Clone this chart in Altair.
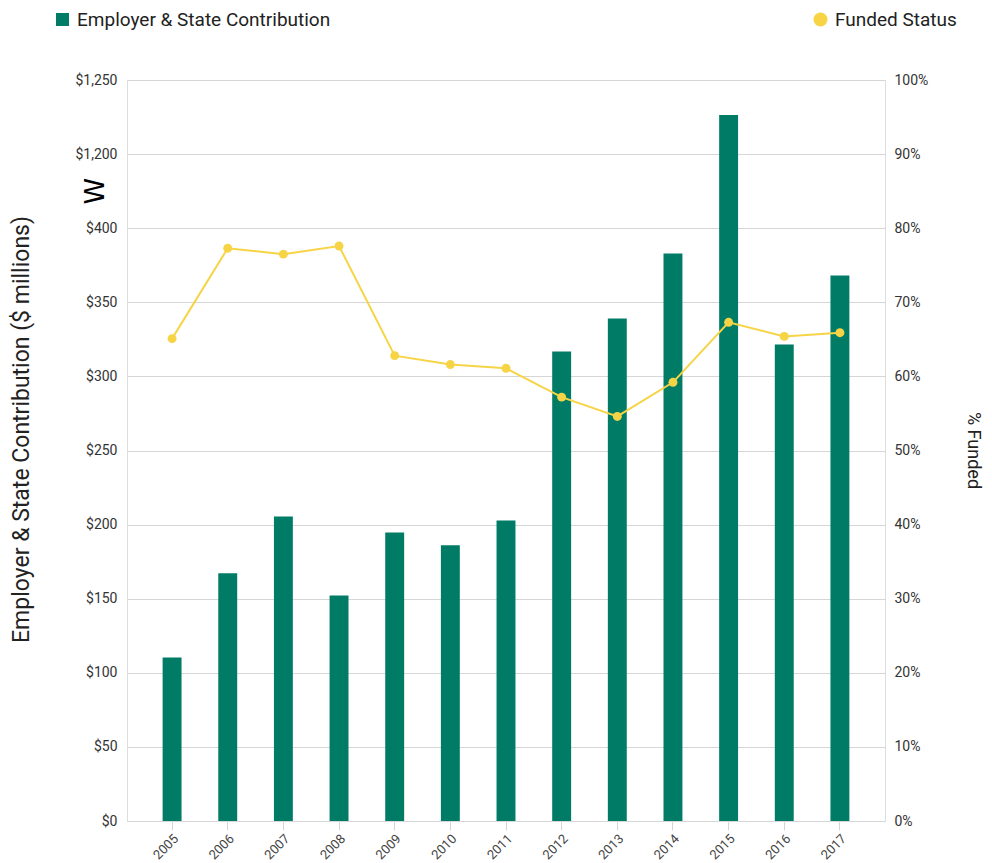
import json
import altair as alt
import pandas as pd

# ---------------- data ----------------
years = [str(y) for y in range(2005, 2018)]
contribution = [110.4, 167.1, 205.5, 152.2, 194.7, 186.0, 202.8,
                316.8, 339.1, 382.9, 1226.4, 321.6, 368.1]
funded_pct = [65.1, 77.3, 76.5, 77.6, 62.8, 61.6, 61.1,
              57.2, 54.6, 59.2, 67.3, 65.4, 65.9]

left_tick_labels = ["$0", "$50", "$100", "$150", "$200", "$250", "$300",
                    "$350", "$400", "$1,200", "$1,250"]
right_tick_labels = ["0%", "10%", "20%", "30%", "40%", "50%", "60%",
                     "70%", "80%", "90%", "100%"]

bar_series = "Employer & State Contribution"
line_series = "Funded Status"
left_title = "Employer & State Contribution ($ millions)"
right_title = "% Funded"
break_symbol = "W"

# broken axis: values up to 400 drawn as is, then the axis resumes at 1,200
step = 50
break_from = 400
resume_at = 1200
offset = resume_at - (break_from + step)
axis_top = break_from + 2 * step

GREEN = "#007C66"
YELLOW = "#F6D445"
GRID = "#D6D6D6"
FONT = "Roboto"

df = pd.DataFrame({
    "year": years,
    "contribution": contribution,
    "funded": funded_pct,
    "bar_series": bar_series,
    "line_series": line_series,
})

x_enc = alt.X(
    "year:O",
    scale=alt.Scale(paddingInner=0.66, paddingOuter=0.64),
    axis=alt.Axis(
        title=None, labelAngle=-45, labelFontSize=13, labelColor="#444",
        tickColor=GRID, tickSize=9, domainColor=GRID, labelPadding=2,
        grid=False,
    ),
)

left_vals = list(range(0, axis_top + 1, step))
right_vals = list(range(0, 101, 10))

bars = alt.Chart(df).transform_calculate(
    pos=f"datum.contribution > {break_from} ? datum.contribution - {offset} : datum.contribution"
).mark_bar().encode(
    x=x_enc,
    y=alt.Y(
        "pos:Q",
        scale=alt.Scale(domain=[0, axis_top], nice=False),
        axis=alt.Axis(
            orient="left", values=left_vals,
            labelExpr=f"{json.dumps(left_tick_labels)}[round(datum.value / {step})]",
            grid=True, gridColor=GRID, domain=False, ticks=False,
            labelPadding=10, labelFontSize=14, labelColor="#333",
            title=left_title, titleFontSize=23, titleFontWeight="normal",
            titleColor="#222", titleAngle=-90, titleX=-99, titleY=349,
            titleAlign="center", titleBaseline="alphabetic",
        ),
    ),
    color=alt.Color(
        "bar_series:N",
        scale=alt.Scale(domain=[bar_series], range=[GREEN]),
        legend=alt.Legend(
            title=None, orient="none", legendX=-74, legendY=-70,
            symbolType="square", symbolSize=169, symbolStrokeWidth=0,
            labelFontSize=19, labelColor="#222", labelOffset=5, padding=0,
            labelLimit=0,
        ),
    ),
)

brk = alt.Chart(pd.DataFrame({"symbol": [break_symbol]})).mark_text(
    angle=270, fontSize=27, color="#000", font="DejaVu Sans"
).encode(
    text="symbol:N",
    x=alt.value(-31),
    y=alt.Y(datum=break_from + step / 2,
            scale=alt.Scale(domain=[0, axis_top], nice=False), axis=None),
)

y_right = alt.Y(
    "funded:Q",
    scale=alt.Scale(domain=[0, 100], nice=False),
    axis=alt.Axis(
        orient="right", values=right_vals,
        labelExpr=f"{json.dumps(right_tick_labels)}[round(datum.value / 10)]",
        grid=False, domain=False, ticks=False,
        labelPadding=9, labelFontSize=14, labelColor="#333",
        title=right_title, titleFontSize=18, titleFontWeight="normal",
        titleColor="#222", titleAngle=90, titleX=82, titleY=370,
        titleAlign="center", titleBaseline="alphabetic",
    ),
)

line = alt.Chart(df).mark_line(color=YELLOW, strokeWidth=2).encode(
    x=x_enc, y=y_right
)
points = alt.Chart(df).mark_circle(size=80, opacity=1).encode(
    x=x_enc, y=y_right,
    fill=alt.Fill(
        "line_series:N",
        scale=alt.Scale(domain=[line_series], range=[YELLOW]),
        legend=alt.Legend(
            title=None, orient="none", legendX=684, legendY=-70,
            symbolType="circle", symbolSize=196, symbolStrokeWidth=0,
            labelFontSize=19, labelColor="#222", labelOffset=5, padding=0,
            labelLimit=0,
        ),
    ),
)

chart = alt.layer(
    bars, brk, alt.layer(line, points)
).resolve_scale(
    y="independent"
).properties(
    width=758, height=741,
    autosize=alt.AutoSizeParams(type="none"),
    padding={"left": 119, "top": 72, "right": 99, "bottom": 40},
).configure_view(
    stroke=None
).configure(
    font=FONT
).configure_axis(
    labelFont=FONT, titleFont=FONT
).configure_legend(
    labelFont=FONT
)

chart.save("out.html", embed_options={"renderer": "svg", "actions": False})
